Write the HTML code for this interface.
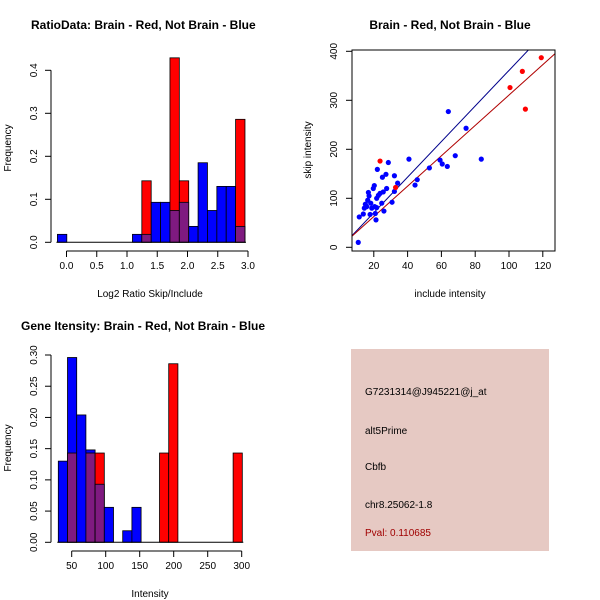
<!DOCTYPE html>
<html><head><meta charset="utf-8"><style>
html,body{margin:0;padding:0;background:#fff}
svg{display:block;font-family:"Liberation Sans",sans-serif}
</style></head><body>
<svg id="c" width="600" height="600" viewBox="0 0 600 600">
<rect width="600" height="600" fill="#fff"/>
<text x="31" y="29" font-size="12" font-weight="bold">RatioData: Brain - Red, Not Brain - Blue</text>
<text x="450" y="29" font-size="12" font-weight="bold" text-anchor="middle">Brain - Red, Not Brain - Blue</text>
<text x="21" y="330" font-size="12" font-weight="bold">Gene Itensity: Brain - Red, Not Brain - Blue</text>
<text x="150" y="297" font-size="10" text-anchor="middle">Log2 Ratio Skip/Include</text>
<text transform="translate(11,148) rotate(-90)" font-size="10" text-anchor="middle">Frequency</text>
<text x="450" y="297" font-size="10" text-anchor="middle">include intensity</text>
<text transform="translate(311,150) rotate(-90)" font-size="10" text-anchor="middle">skip intensity</text>
<text x="150" y="597" font-size="10" text-anchor="middle">Intensity</text>
<text transform="translate(11,448) rotate(-90)" font-size="10" text-anchor="middle">Frequency</text>
<g>
<rect x="351" y="349" width="198" height="202" fill="#e6c9c3"/>
<text x="365" y="395" font-size="10">G7231314@J945221@j_at</text>
<text x="365" y="434" font-size="10">alt5Prime</text>
<text x="365" y="470" font-size="10">Cbfb</text>
<text x="365" y="508" font-size="10">chr8.25062-1.8</text>
<text x="365" y="536" font-size="10" fill="#a00000">Pval: 0.110685</text>
</g>
</svg>
<script>
// Ratio histogram data
const ratioBinStart = -0.15, ratioBinWidth = 0.155;
const ratioBlue = [0.0185,0,0,0,0,0,0,0,0.0185,0.0185,0.093,0.093,0.074,0.093,0.037,0.185,0.074,0.13,0.13,0.037];
const ratioRed  = [0,0,0,0,0,0,0,0,0,0.143,0,0,0.429,0.143,0,0,0,0,0,0.286];
const ratioXTicks = [0,0.5,1.0,1.5,2.0,2.5,3.0];
const ratioXTickLabels = ["0.0","0.5","1.0","1.5","2.0","2.5","3.0"];
const ratioYTicks = [0,0.1,0.2,0.3,0.4];
const ratioYTickLabels = ["0.0","0.1","0.2","0.3","0.4"];
// Intensity histogram data
const intBinStart = 30.3, intBinWidth = 13.53;
const intBlue = [0.13,0.296,0.204,0.148,0.093,0.056,0,0.0185,0.056,0,0,0,0,0,0,0,0,0,0,0];
const intRed  = [0,0.143,0,0.143,0.143,0,0,0,0,0,0,0.143,0.286,0,0,0,0,0,0,0.143];
const intXTicks = [50,100,150,200,250,300];
const intXTickLabels = ["50","100","150","200","250","300"];
const intYTicks = [0,0.05,0.1,0.15,0.2,0.25,0.3];
const intYTickLabels = ["0.00","0.05","0.10","0.15","0.20","0.25","0.30"];
// Scatter data
const blueX = [10.8,11.4,13.8,14.4,15.0,15.8,16.4,16.8,17.2,17.8,18.2,18.8,19.7,20.3,20.5,20.9,21.3,21.7,22.1,21.7,22.7,23.7,24.7,25.1,25.6,26.0,27.2,27.6,28.6,30.8,32.2,32.2,34.1,40.8,44.4,45.7,52.9,59.2,60.5,63.5,64.1,68.2,74.6,83.6];
const blueY = [10,62,68,80,88,83,96,112,105,67,90,80,120,126,83,69,56,81,159,100,106,110,90,143,113,74,149,120,173,92,146,114,131,180,127,138,162,178,170,165,277,187,243,180];
const redX = [23.7,32.9,100.6,107.9,109.7,119.1];
const redY = [176,122,326,359,282,387];
const blueFit = [-2,3.63];
const redFit = [0.7,3.1];
const scXTicks = [20,40,60,80,100,120];
const scXTickLabels = ["20","40","60","80","100","120"];
const scYTicks = [0,100,200,300,400];
const scYTickLabels = ["0","100","200","300","400"];

const svg = document.getElementById('c');
const NS = 'http://www.w3.org/2000/svg';
function mk(tag, attrs, parent){
  const e = document.createElementNS(NS, tag);
  for (const k in attrs) e.setAttribute(k, attrs[k]);
  (parent||svg).appendChild(e);
  return e;
}
function txt(x,y,s,size,anchor,rot,parent){
  const t = mk('text',{x:x,y:y,'font-size':size,'text-anchor':anchor||'middle',fill:'#000'},parent);
  if (rot) t.setAttribute('transform','rotate(-90 '+x+' '+y+')');
  t.textContent = s;
  return t;
}

function hist(name, bs, bw, blue, red, xs, ys, xt, xtl, yt, ytl, axY, axX){
  const g = mk('g',{});
  
  
  for (let i=0;i<blue.length;i++){
    const x0 = xs(bs+i*bw), x1 = xs(bs+(i+1)*bw);
    const b = blue[i], r = red[i], lo = Math.min(b,r), hi = Math.max(b,r);
    if (hi<=0) continue;
    const topCol = b>=r ? '#0000ff' : '#ff0000';
    const rt = mk('rect',{x:x0,y:ys(hi),width:x1-x0,height:ys(0)-ys(hi),fill:topCol,stroke:'#000','stroke-width':0.8},g);
    
    
    if (lo>0){
      const rp = mk('rect',{x:x0,y:ys(lo),width:x1-x0,height:ys(0)-ys(lo),fill:'#7f1a80',stroke:'#000','stroke-width':0.8},g);
      
      
    }
  }
  mk('line',{x1:xs(bs)-1,x2:xs(bs+blue.length*bw)+1,y1:ys(0),y2:ys(0),stroke:'#000'},g);
  const xa = mk('g',{},g);
  
  
  mk('line',{x1:xs(xt[0]),x2:xs(xt[xt.length-1]),y1:axX,y2:axX,stroke:'#000'},xa);
  xt.forEach((v,i)=>{ mk('line',{x1:xs(v),x2:xs(v),y1:axX,y2:axX+6,stroke:'#000'},xa); txt(xs(v),axX+18,xtl[i],10,'middle',false,xa); });
  const ya = mk('g',{},g);
  
  
  mk('line',{x1:axY,x2:axY,y1:ys(yt[0]),y2:ys(yt[yt.length-1]),stroke:'#000'},ya);
  yt.forEach((v,i)=>{ mk('line',{x1:axY,x2:axY-6,y1:ys(v),y2:ys(v),stroke:'#000'},ya); txt(axY-14,ys(v),ytl[i],10,'middle',true,ya); });
}

hist('ratio-histogram', ratioBinStart, ratioBinWidth, ratioBlue, ratioRed,
  v=>66.5+v*60.5, v=>242.3-v*430, ratioXTicks, ratioXTickLabels, ratioYTicks, ratioYTickLabels, 51, 251);
hist('intensity-histogram', intBinStart, intBinWidth, intBlue, intRed,
  v=>71.7+(v-50)*0.68, v=>542.3-v*624.3, intXTicks, intXTickLabels, intYTicks, intYTickLabels, 51, 551);

const sx = v=>340+1.69*v, sy = v=>247.3-0.49*v;
const sg = mk('g',{});


const cp = mk('clipPath',{id:'scclip'},sg);
mk('rect',{x:352,y:50,width:203,height:201},cp);
const bl = mk('line',{x1:sx(0),y1:sy(blueFit[0]),x2:sx(130),y2:sy(blueFit[0]+blueFit[1]*130),stroke:'#00008b','stroke-width':1,'clip-path':'url(#scclip)'},sg);


const rl = mk('line',{x1:sx(0),y1:sy(redFit[0]),x2:sx(130),y2:sy(redFit[0]+redFit[1]*130),stroke:'#b00000','stroke-width':1,'clip-path':'url(#scclip)'},sg);


blueX.forEach((v,i)=>{
  const c = mk('circle',{cx:sx(v),cy:sy(blueY[i]),r:2.6,fill:'#0000ff'},sg);
  
  
});
redX.forEach((v,i)=>{
  const c = mk('circle',{cx:sx(v),cy:sy(redY[i]),r:2.6,fill:'#ff0000'},sg);
  
  
});
const box = mk('rect',{x:352,y:50,width:203,height:201,fill:'none',stroke:'#000'},sg);


scXTicks.forEach((v,i)=>{ mk('line',{x1:sx(v),x2:sx(v),y1:251,y2:257,stroke:'#000'},sg); txt(sx(v),269,scXTickLabels[i],10,'middle',false,sg); });
scYTicks.forEach((v,i)=>{ mk('line',{x1:352,x2:346,y1:sy(v),y2:sy(v),stroke:'#000'},sg); txt(337,sy(v),scYTickLabels[i],10,'middle',true,sg); });
</script>
</body></html>
